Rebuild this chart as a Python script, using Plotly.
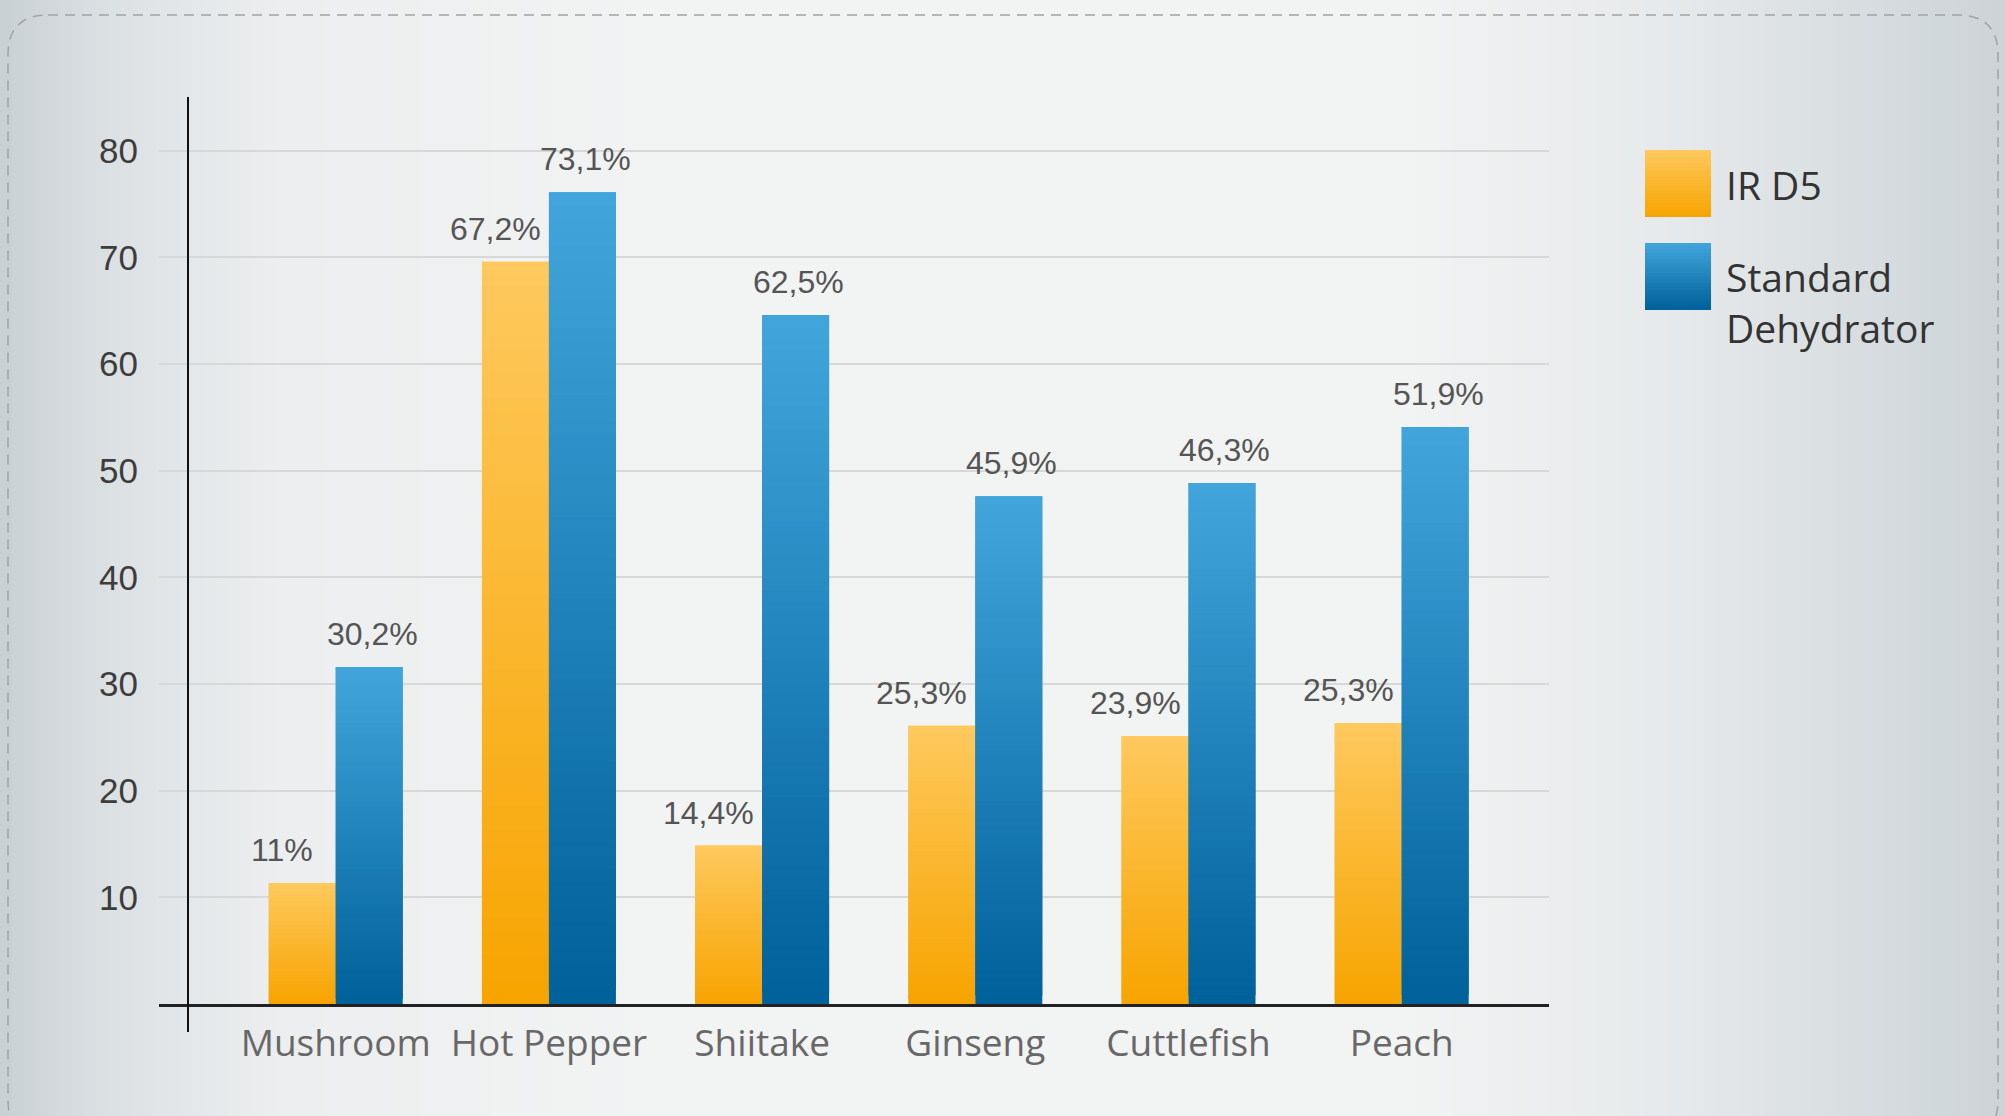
import plotly.graph_objects as go

# ---------------- data ----------------
categories = ["Mushroom", "Hot Pepper", "Shiitake", "Ginseng", "Cuttlefish", "Peach"]
ird5_values = [11.35, 69.6, 14.85, 26.1, 25.1, 26.35]          # bar heights as drawn
standard_values = [31.6, 76.1, 64.6, 47.6, 48.85, 54.1]        # bar heights as drawn
ird5_labels = ["11%", "67,2%", "14,4%", "25,3%", "23,9%", "25,3%"]
standard_labels = ["30,2%", "73,1%", "62,5%", "45,9%", "46,3%", "51,9%"]
y_ticks = [10, 20, 30, 40, 50, 60, 70, 80]
series_names = ["IR D5", "Standard<br>Dehydrator"]

# ---------------- geometry / style ----------------
W, H = 2005, 1116
ML, MR, MT, MB = 159, 456, 97, 112
PW, PH = W - ML - MR, H - MT - MB
X_RANGE = [-0.829, 5.691]
Y_RANGE = [0, 85.04]
BARGAP = 0.3715

IRD5_BOTTOM, IRD5_TOP = (247, 164, 0), (254, 201, 94)
STD_BOTTOM, STD_TOP = (0, 96, 154), (66, 166, 220)

VALUE_FONT = "Liberation Sans, Arial, sans-serif"
LABEL_FONT = "Open Sans, Noto Sans, sans-serif"


def px(x):
    return (x - ML) / PW


def py(y):
    return (H - MB - y) / PH


def mix(c0, c1, t):
    return "rgb(%d,%d,%d)" % tuple(round(a + (b - a) * t) for a, b in zip(c0, c1))


def hexrgb(h):
    h = h.lstrip("#")
    return tuple(int(h[i:i + 2], 16) for i in (0, 2, 4))


fig = go.Figure()

# gradient bars built from stacked (overlapping) slices of real bar traces
K = 60
for name, vals, c_bot, c_top in [("ird5", ird5_values, IRD5_BOTTOM, IRD5_TOP),
                                 ("std", standard_values, STD_BOTTOM, STD_TOP)]:
    for k in range(K):
        t = (k + 0.5) / K
        fig.add_trace(go.Bar(
            x=categories,
            y=[v / K * (1.0 if k == K - 1 else 2.0) for v in vals],
            base=[v * k / K for v in vals],
            offsetgroup=name,
            marker=dict(color=mix(c_bot, c_top, t), line=dict(width=0)),
            showlegend=False,
            hoverinfo="skip",
        ))

# value labels
half = (1 - BARGAP) / 4
annotations = []
for i, (v, lab) in enumerate(zip(ird5_values, ird5_labels)):
    annotations.append(dict(x=i - half, y=v, text=lab, xref="x", yref="y",
                            showarrow=False, yanchor="bottom", yshift=13, xshift=-20,
                            font=dict(family=VALUE_FONT, size=32, color="#555555")))
for i, (v, lab) in enumerate(zip(standard_values, standard_labels)):
    annotations.append(dict(x=i + half, y=v, text=lab, xref="x", yref="y",
                            showarrow=False, yanchor="bottom", yshift=13, xshift=3,
                            font=dict(family=VALUE_FONT, size=32, color="#555555")))

# legend (custom)
shapes = []
legend_items = [(150, 217, IRD5_BOTTOM, IRD5_TOP, series_names[0], 185),
                (243, 310, STD_BOTTOM, STD_TOP, series_names[1], 302)]
for top, bot, c_bot, c_top, label, ty in legend_items:
    n = 20
    for k in range(n):
        y0 = bot - (bot - top) * k / n
        y1 = bot - (bot - top) * (k + 2) / n if k < n - 1 else top
        shapes.append(dict(type="rect", xref="paper", yref="paper",
                           x0=px(1645), x1=px(1711), y0=py(y0), y1=py(y1),
                           fillcolor=mix(c_bot, c_top, (k + 0.5) / n), line=dict(width=0),
                           layer="above"))
    annotations.append(dict(x=px(1724), y=py(ty), xref="paper", yref="paper", text=label,
                            showarrow=False, xanchor="left", yanchor="middle", align="left",
                            font=dict(family=LABEL_FONT, size=39, color="#333333")))

# background horizontal gradient strips
stops = [(0, "#c9d0d4"), (120, "#dde2e5"), (280, "#eceeef"), (650, "#f2f3f3"),
         (1400, "#f2f3f3"), (1700, "#e5e8ea"), (2005, "#ccd3d7")]
step = 12
x = 0
while x < W:
    xc = x + step / 2
    for (a, ca), (b, cb) in zip(stops[:-1], stops[1:]):
        if a <= xc <= b:
            col = mix(hexrgb(ca), hexrgb(cb), (xc - a) / (b - a))
            break
    shapes.append(dict(type="rect", xref="paper", yref="paper",
                       x0=px(x), x1=px(min(x + step + 1, W)), y0=py(H), y1=py(0),
                       fillcolor=col, line=dict(width=0), layer="below"))
    x += step

# dashed rounded border
bx0, by0, bx1, by1, r = 8, 15, 1998, 1140, 40
path = (f"M {px(bx0 + r)} {py(by0)} L {px(bx1 - r)} {py(by0)} "
        f"Q {px(bx1)} {py(by0)} {px(bx1)} {py(by0 + r)} "
        f"L {px(bx1)} {py(by1 - r)} Q {px(bx1)} {py(by1)} {px(bx1 - r)} {py(by1)} "
        f"L {px(bx0 + r)} {py(by1)} Q {px(bx0)} {py(by1)} {px(bx0)} {py(by1 - r)} "
        f"L {px(bx0)} {py(by0 + r)} Q {px(bx0)} {py(by0)} {px(bx0 + r)} {py(by0)} Z")
shapes.append(dict(type="path", xref="paper", yref="paper", path=path,
                   line=dict(color="#a3a3a3", width=1.5, dash="10px,7px"), layer="below"))

# vertical axis line (crosses below the x axis)
shapes.append(dict(type="line", xref="paper", yref="paper",
                   x0=px(188), x1=px(188), y0=py(1032), y1=1.0,
                   line=dict(color="#111111", width=2), layer="above"))

fig.update_layout(
    width=W, height=H,
    margin=dict(l=ML, r=MR, t=MT, b=MB, autoexpand=False),
    paper_bgcolor="#f2f3f3",
    plot_bgcolor="rgba(0,0,0,0)",
    barmode="group",
    bargap=BARGAP,
    bargroupgap=0,
    showlegend=False,
    shapes=shapes,
    annotations=annotations,
    xaxis=dict(range=X_RANGE, showgrid=False, zeroline=False,
               showline=True, linecolor="#222222", linewidth=2.5,
               ticks="", ticklabelstandoff=5,
               tickfont=dict(family=LABEL_FONT, size=37, color="#686868")),
    yaxis=dict(range=Y_RANGE, tickvals=y_ticks, ticktext=[str(v) for v in y_ticks],
               showgrid=True, gridcolor="#d8d8d8", gridwidth=1.5,
               zeroline=False, showline=False, ticks="", ticklabelstandoff=20,
               tickfont=dict(family=VALUE_FONT, size=35, color="#3d3d3d")),
)

fig.write_html("out.html")
